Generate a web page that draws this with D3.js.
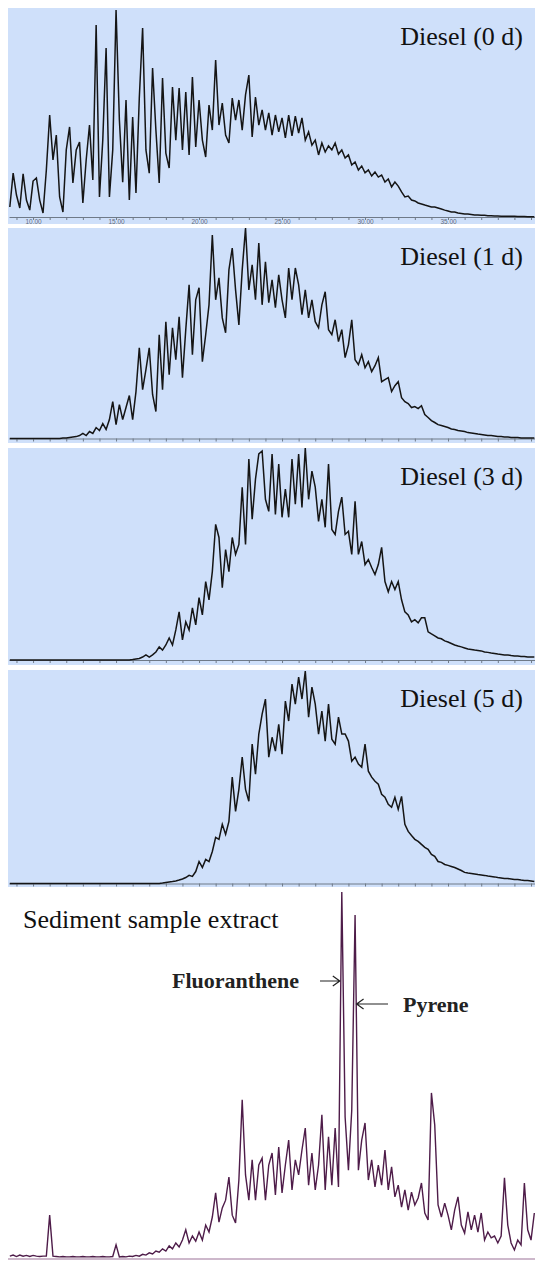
<!DOCTYPE html>
<html>
<head>
<meta charset="utf-8">
<script src="https://cdn.jsdelivr.net/npm/d3@7"></script>
<style>
  body { margin: 0; background: #fff; }
  svg { display: block; }
  text { font-family: "Liberation Serif", "Times New Roman", serif; }
</style>
</head>
<body>
<svg id="chart" width="535" height="1261"></svg>
<script>
// retention time (min) of first point and sampling step
var tStart = 8.6;
var tStep = 0.2;

var labelTicks = [10, 15, 20, 25, 30, 35];
var tickLabels = ["10.00", "15.00", "20.00", "25.00", "30.00", "35.00"];

var panelLabels = ["Diesel (0 d)", "Diesel (1 d)", "Diesel (3 d)", "Diesel (5 d)"];
var sedimentTitle = "Sediment sample extract";
var peakNames = ["Fluoranthene", "Pyrene"];

// relative abundance, % of panel full scale
var diesel0 = [4.8,21,10.5,4.3,20.6,8.1,3.3,17.2,18.7,8.1,
  1.9,22.5,48.8,27.3,39.2,9.6,2.4,32.1,43.1,16.3,
  32.1,35.9,6.7,27.3,44,17.7,91.9,9.6,36.8,80.9,
  9.6,32.1,99,46.4,16.7,56,8.1,47.8,11.5,56.9,
  90.4,32.1,21,71.3,41.6,16.3,66.5,30.6,23.4,62.2,
  36.8,61.7,32.1,59.8,29.7,67,33.5,56,36.8,28.7,
  53.6,41.6,75.1,44,54.5,39.2,35.4,56.9,46.4,56,
  41.6,58.4,67.9,38.3,57.4,44,51.2,41.6,49.8,39.2,
  48.8,40.7,47.4,37.8,48.8,38.8,48.3,40.2,47.4,36.8,
  40.7,34.4,36.8,29.7,35.4,31.1,34,32.1,35.4,30.1,
  32.1,28.2,29.7,24.9,26.3,22.5,24.4,21.1,22.5,19.6,
  21.5,19.1,20.1,16.7,18.2,14.4,16.7,14.8,12,9.6,
  10,8.1,7.7,6.7,6.2,5.7,5.3,4.8,4.8,4.3,
  3.8,3.3,2.9,2.4,2.4,1.9,1.7,1.4,1.4,1.2,
  1,1,0.8,0.8,0.6,0.6,0.5,0.5,0.4,0.4,
  0.3,0.3,0.3,0.2,0.2,0.2,0.1,0.1,0.1];

var diesel1 = [0,0,0,0,0,0,0,0,0,0,0,0,0,0,0,0,0.2,
  0.2,0.5,0.7,0.9,1.4,2.4,1.4,3.3,2.4,5.2,3.8,7.1,4.3,9,17.5,6.6,16.1,9,14.7,20.4,9,22.3,
  43.1,23.2,32.7,43.1,20.9,12.8,49.3,23.2,55.5,30.3,52.6,37.4,57.8,28.9,51.7,73,39.8,65.9,
  71.6,36.5,49.3,63.5,96.7,65.9,76.3,57.3,50.2,80.1,90.5,70.6,54,80.1,100,70.6,82.5,65.9,
  92.9,63.5,83.9,64.5,75.4,62.1,77.7,65.9,57.3,81,65.9,81,73,58.8,70.6,57.3,65.9,55.5,
  52.6,63.5,69.7,51.7,49.3,56.4,46,51.7,38.4,44.5,56.4,37.4,35.1,39.8,33.6,36.5,31.8,34.6,
  38.4,27,28,28.9,22.3,25.1,27,19.4,17.5,16.6,14.7,15.2,14.2,15.6,11.4,10,8.5,7.6,6.6,
  6.2,5.7,5.2,4.5,4.3,3.8,3.6,3.3,2.8,2.6,2.4,2.1,1.9,1.7,1.4,1.4,1.2,0.9,0.9,0.7,0.7,
  0.5,0.5,0.5,0.2,0.2,0.2,0.2,0.2];

var diesel3 = [0,0,0,0,0,0,0,0,0,0,0,0,0,0,0,0,0,0,0,0,0,0,0,0,0,0,0,0,0,0,0,0,0,0,0,0,0,
  0.2,0.5,0.7,1.4,2.4,1.4,2.4,3.8,6.2,4.7,7.1,10.4,7.1,14.2,22.7,9.5,18,14.2,24.6,16.6,
  29.4,21.3,37,28.4,41.7,64,57.8,34.1,52.1,41.7,57.8,49.8,54.5,81.5,54.5,94.8,66.4,85.3,
  97.2,98.6,75.8,70.1,97.2,68.7,92.4,67.3,80.6,67.3,94.8,73.5,97.2,72,100,75.8,89.1,81.5,
  65.4,75.8,62.6,92.4,61.6,59.2,70.1,76.8,59.2,60.7,49.8,74.9,49.8,55.9,45,47.4,43.6,40.3,
  45,53.1,37,32.2,37,33.2,37,28.4,22.7,21.3,18,19,17.5,19.9,19.9,13.3,12.3,11.4,10.4,10,
  9,8.5,7.8,7.1,6.6,6.2,5.7,5.2,5,4.7,4.5,4.3,3.8,3.6,3.3,3.1,2.8,2.6,2.4,2.4,2.1,1.9,1.9,
  1.7,1.7,1.4,1.4,1.4];

var diesel5 = [0,0,0,0,0,0,0,0,0,0,0,0,0,0,0,0,0,0,0,0,0,0,0,0,0,0,0,0,0,0,0,0,0,0,0,0,0,0,0,0,0,0,0,0,0,0,
  0.2,0.5,0.7,0.9,1.2,1.6,2.1,2.8,3.8,3.3,5.6,10.3,7.5,11.3,10.3,15,21.6,20.7,27.7,23,
  29.1,49.8,33.8,44.1,59.2,44.1,38.5,65.3,51.2,70,79.3,86.4,59.2,68.5,62,74.6,60.6,85.4,
  76.1,93.4,84,96.7,86.4,99.5,77.9,92,84,70,80.8,66.7,84,67.6,65.3,77.9,70,70,66.7,57.3,
  59.2,55.9,54.5,65.3,52.6,49.8,47.9,46.5,41.8,40.4,37.1,35.7,40.4,34.7,40.8,27.7,24.4,
  22.5,20.7,19.7,18.3,16.9,16,13.6,12.7,10.3,9.9,8.9,8.5,8,7.5,6.8,6.1,5.2,4.9,4.7,4.5,
  4.2,4,3.8,3.5,3.3,3.1,2.8,2.6,2.3,2.3,2.1,1.9,1.9,1.6,1.4,1.4,1.2,0.9];

var sediment = [0.5,0.8,0.4,0.8,0.5,0.7,0.4,0.7,0.5,0.4,0.5,0.5,11.7,0.5,0.4,
  0.3,0.4,0.3,0.3,0.4,0.3,0.3,0.4,0.3,0.3,0.4,0.3,0.3,0.4,0.3,0.3,0.4,3.6,
  0.3,0.4,0.3,0.5,0.4,0.7,0.5,1,0.8,1.4,1.1,1.9,1.6,2.5,1.9,3.3,2.5,4.1,3,4.9,7.7,4.1,
  6,4.6,7.1,4.9,9,7.1,11.2,17.8,9.8,13.7,15.8,22.1,11.7,9.6,21.3,43.2,22.7,15.8,26.8,
  15.8,25.4,27.3,15.8,25.4,28.7,17.2,30.3,17.8,25.4,32.2,18.6,26.8,22.7,29.5,35.5,19.9,
  28.7,18.6,25.4,39.1,18.6,33.1,19.9,35.5,19.4,100,38.5,24,40.4,93.7,24,32.2,36.9,21.3,
  26.8,19.4,25.4,19.9,29.5,18.6,24.9,16.7,19.9,13.9,18.6,13.1,18,14.5,16.4,20.5,12.3,
  10.4,45.1,36.3,14.5,11.2,15,11.7,7.7,13.1,16.7,9,6.8,12.6,7.7,11.7,7.1,12.3,4.9,7.1,
  5.5,6,4.1,6,21.9,9,4.1,2.2,4.9,3.6,20.5,7.7,4.9,12.3];

var series = [diesel0, diesel1, diesel3, diesel5];

var svg = d3.select("#chart");
var W = +svg.attr("width");

var x = d3.scaleLinear()
  .domain([8.55, 40.24])
  .range([9, W]);

// panel boxes (top, bottom of blue box, axis line)
var panels = [
  { top: 8, bottom: 224, axis: 217 },
  { top: 228, bottom: 443, axis: 438.5 },
  { top: 448, bottom: 665, axis: 660 },
  { top: 670, bottom: 887, axis: 883.5 }
];

function toPoints(values) {
  return values.map((v, i) => ({ t: tStart + i * tStep, v: v }));
}

panels.forEach((p, k) => {
  var g = svg.append("g").classed("panel", true);

  g.append("rect")
    .attr("x", 8).attr("y", p.top)
    .attr("width", W - 8).attr("height", p.bottom - p.top)
    .attr("fill", "#cfe0fa");

  var y = d3.scaleLinear()
    .domain([0, 100])
    .range([p.axis, p.top]);

  var axis = d3.axisBottom(x)
    .tickValues(d3.range(9, 41))
    .tickSize(3)
    .tickSizeOuter(0)
    .tickPadding(-1)
    .tickFormat(d => {
      var j = labelTicks.indexOf(d);
      return (k === 0 && j >= 0) ? tickLabels[j] : "";
    });

  var ax = g.append("g")
    .attr("transform", "translate(0," + p.axis + ")")
    .call(axis);
  ax.select(".domain").attr("stroke", "#6f7a88");
  ax.selectAll(".tick line").attr("stroke", "#6f7a88");
  ax.selectAll(".tick text")
    .attr("fill", "#5f6b7a")
    .style("font-family", "'Liberation Sans', Arial, sans-serif")
    .style("font-size", "6.5px");

  g.append("path")
    .datum(toPoints(series[k]))
    .attr("fill", "none")
    .attr("stroke", "#151515")
    .attr("stroke-width", 1.5)
    .attr("stroke-linejoin", "miter")
    .attr("d", d3.line().x(d => x(d.t)).y(d => y(d.v)));

  g.append("text")
    .attr("x", 523)
    .attr("y", p.top + 37)
    .attr("text-anchor", "end")
    .style("font-size", "26px")
    .attr("fill", "#111")
    .text(panelLabels[k]);
});

// sediment sample panel
var sedBase = 1258;
var ySed = d3.scaleLinear()
  .domain([0, 100])
  .range([sedBase, 892]);

svg.append("line")
  .attr("x1", 8).attr("x2", W)
  .attr("y1", 1259).attr("y2", 1259)
  .attr("stroke", "#9c7398")
  .attr("stroke-width", 1.2);

svg.append("path")
  .datum(toPoints(sediment))
  .attr("fill", "none")
  .attr("stroke", "#4e1c49")
  .attr("stroke-width", 1.4)
  .attr("d", d3.line().x(d => x(d.t)).y(d => ySed(d.v)));

svg.append("text")
  .attr("x", 23)
  .attr("y", 928)
  .style("font-size", "26px")
  .attr("fill", "#111")
  .text(sedimentTitle);

svg.append("text")
  .attr("x", 172)
  .attr("y", 988)
  .style("font-size", "22px")
  .style("font-weight", "bold")
  .attr("fill", "#222")
  .text(peakNames[0]);

svg.append("text")
  .attr("x", 403)
  .attr("y", 1012)
  .style("font-size", "22px")
  .style("font-weight", "bold")
  .attr("fill", "#222")
  .text(peakNames[1]);

// arrows pointing at the two PAH peaks
var fluX = x(tStart + sediment.indexOf(100) * tStep);
var pyrX = x(tStart + sediment.indexOf(93.7) * tStep);

function arrow(x0, x1, yy) {
  var dir = x1 > x0 ? -1 : 1;
  return "M" + x0 + "," + yy + "H" + x1 +
    "M" + (x1 + dir * 7) + "," + (yy - 5) + "L" + x1 + "," + yy +
    "L" + (x1 + dir * 7) + "," + (yy + 5);
}

svg.append("path")
  .attr("d", arrow(320, fluX - 2, 981))
  .attr("fill", "none")
  .attr("stroke", "#222")
  .attr("stroke-width", 1.2);

svg.append("path")
  .attr("d", arrow(388, pyrX + 1.5, 1004))
  .attr("fill", "none")
  .attr("stroke", "#222")
  .attr("stroke-width", 1.2);
</script>
</body>
</html>
